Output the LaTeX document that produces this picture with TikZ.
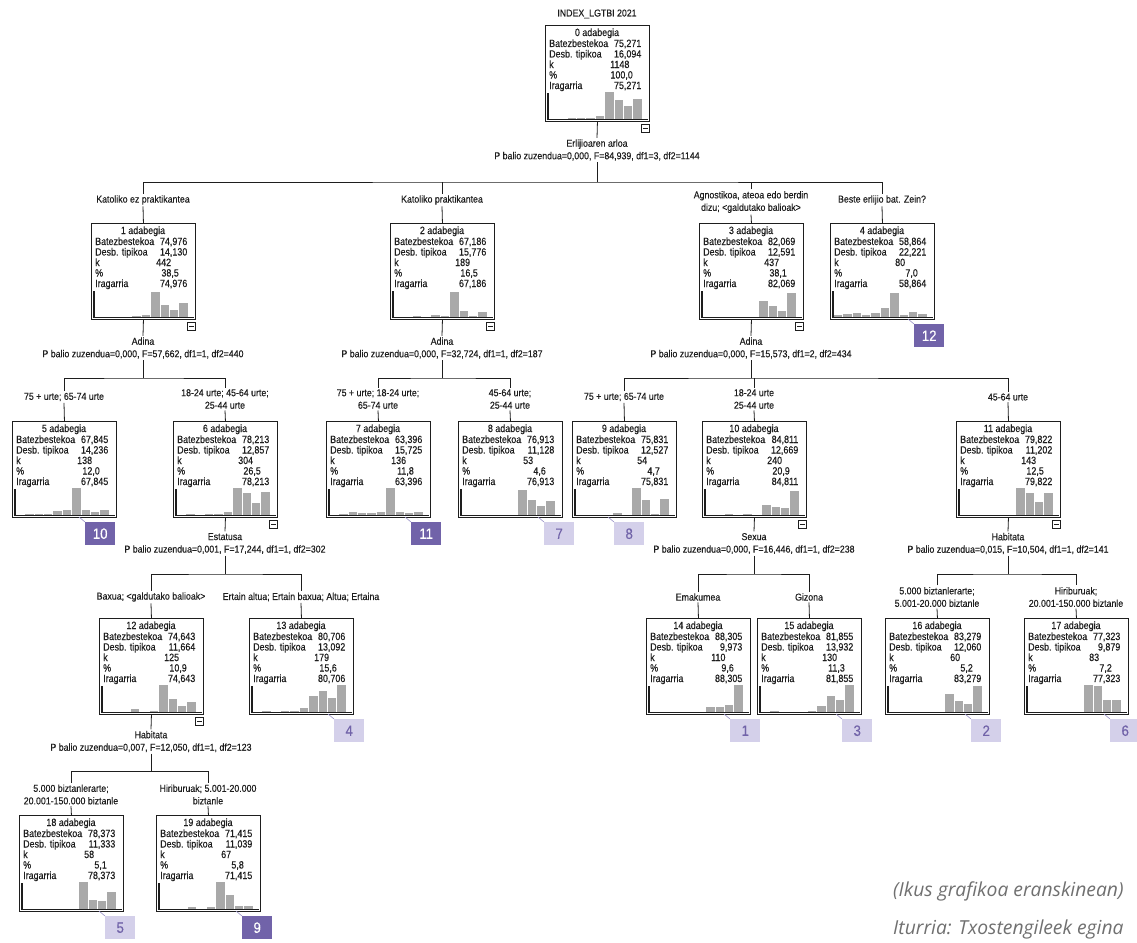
\documentclass[tikz,border=0pt]{standalone}
\usepackage{fontspec}
\setmainfont{Liberation Sans}
\newfontfamily\nf[FakeStretch=0.85,FakeBold=0.3]{Liberation Sans}
\newfontfamily\lf[FakeStretch=0.88,FakeBold=0.25]{Liberation Sans}
\newfontfamily\notef{Open Sans}
\usetikzlibrary{calc}
\definecolor{ink}{HTML}{1E1E1E}
\definecolor{bargray}{HTML}{A9A9A9}
\definecolor{dpur}{HTML}{7163A9}
\definecolor{lpur}{HTML}{D4D0EA}
\definecolor{tickc}{HTML}{9A92C8}
\definecolor{notec}{HTML}{707070}
\tikzset{
  box/.style={draw=ink, line width=0.9pt, minimum width=104pt, minimum height=96pt, inner sep=0pt, anchor=north west},
  txt/.style={inner sep=0pt, font=\nf\fontsize{10.5}{10.5}\selectfont, text=ink},
  lbl/.style={inner sep=1.5pt, align=center, font=\lf\fontsize{10}{12.5}\selectfont, text=ink},
  conn/.style={draw=ink, line width=0.8pt},
  minusbox/.style={draw=ink, line width=0.7pt, fill=white, minimum size=8pt, inner sep=0pt},
  badgedark/.style={fill=dpur, text=white, minimum width=30pt, minimum height=23pt, inner sep=0pt, font=\lf\fontsize{15}{15}\selectfont},
  badgelight/.style={fill=lpur, text=dpur, minimum width=30pt, minimum height=23pt, inner sep=0pt, font=\lf\fontsize{15}{15}\selectfont},
  tickline/.style={draw=tickc, line width=0.6pt},
  notestyle/.style={anchor=base west, inner sep=0pt, text=notec, font=\notef\itshape\fontsize{19.3}{19.3}\selectfont},
}
% #1 name, #2 x, #3 y, #4 id, #5 mean, #6 sd, #7 k, #8 pct, #9 bars
\newcommand\treebox[9]{%
  \node[box] (#1) at (#2,#3) {};
  \begin{scope}[shift={(#1.north west)}]
    \node[txt, anchor=base] (#1-t) at (52,11) {#4 adabegia};
    \node[txt, anchor=base west] (#1-a) at (4,22) {Batezbestekoa};
    \node[txt, anchor=base east] (#1-av) at (96.5,22) {#5};
    \node[txt, anchor=base west] (#1-b) at (4,32.5) {Desb. tipikoa};
    \node[txt, anchor=base east] (#1-bv) at (96.5,32.5) {#6};
    \node[txt, anchor=base west] (#1-c) at (4,43) {k};
    \node[txt, anchor=base west] (#1-cv) at (65,43) {#7};
    \node[txt, anchor=base west] (#1-d) at (4,53.5) {\%};
    \node[txt, anchor=base east] (#1-dv) at (88,53.5) {#8};
    \node[txt, anchor=base west] (#1-e) at (4,64) {Iragarria};
    \node[txt, anchor=base east] (#1-ev) at (96.5,64) {#5};
    \foreach \h [count=\i from 0] in {#9} {
      \fill[bargray] ({3.8+9.4*\i},94) rectangle ({3.8+9.4*\i+8.4},{94-\h});
    }
    \draw[ink, line width=1.1pt] (3,68) -- (3,94.6) -- (103,94.6);
  \end{scope}}
\newcommand\minbox[1]{%
  \node[minusbox, anchor=north east] (#1-m) at ($(#1.south east)+(0,2)$) {};
  \draw[ink, line width=0.8pt] ($(#1-m.center)+(-2.4,0)$) -- ($(#1-m.center)+(2.4,0)$);}
% #1 name, #2 box, #3 dx, #4 number, #5 style
\newcommand\mkbadge[5]{%
  \node[#5, anchor=north west] (#1) at ($(#2.north west)+(#3,101)$) {#4};
  \draw[tickline] (#1.north west) -- ++(-6,-5);}
\begin{document}
\begin{tikzpicture}[x=1pt, y=-1pt]
\useasboundingbox (0,0) rectangle (1137,942);
\clip (0,0) rectangle (1137,942);
\fill[white] (0,0) rectangle (1137,942);

% title
\node[lbl] (title) at (597,14) {INDEX\_LGTBI 2021};

% boxes
\treebox{n0}{545}{25}{0}{75,271}{16,094}{1148}{100,0}{0,0,1,1,1.5,3,27,19,13,20}
\treebox{n1}{91}{223}{1}{74,976}{14,130}{442}{38,5}{0,0,0,0,1,2,25,12,7,14}
\treebox{n2}{390}{223}{2}{67,186}{15,776}{189}{16,5}{0,0,1,0,2,1,25,6,1,5}
\treebox{n3}{699}{223}{3}{82,069}{12,591}{437}{38,1}{0,0,0,0,0,0,16,11,6,24}
\treebox{n4}{830}{223}{4}{58,864}{22,221}{80}{7,0}{2,3,4,2,4,9,24,2,5,3}
\treebox{n5}{12}{421}{5}{67,845}{14,236}{138}{12,0}{0,1,1.5,1,4,5,27,5,3,5}
\treebox{n6}{173}{421}{6}{78,213}{12,857}{304}{26,5}{0,1,0,1.5,1,3,27,22,12,23}
\treebox{n7}{326}{421}{7}{63,396}{15,725}{136}{11,8}{0,1,3,2,2,3,27,3,2,3}
\treebox{n8}{458}{421}{8}{76,913}{11,128}{53}{4,6}{0,0,0,0,0,0,25,15,9,14}
\treebox{n9}{572}{421}{9}{75,831}{12,527}{54}{4,7}{0,0,0,0,2,0,27,15,1,16}
\treebox{n10}{702}{421}{10}{84,811}{12,669}{240}{20,9}{0,0,1,0,1,0,10,8,7,24}
\treebox{n11}{956}{421}{11}{79,822}{11,202}{143}{12,5}{0,0,0,0,0,0,27,22,13,22}
\treebox{n12}{99}{618}{12}{74,643}{11,664}{125}{10,9}{0,0,0,3,0,1,27,13,6,10}
\treebox{n13}{249}{618}{13}{80,706}{13,092}{179}{15,6}{0,1,0,1,1,4,16,21,14,27}
\treebox{n14}{646}{618}{14}{88,305}{9,973}{110}{9,6}{0,0,0,0,0,0,5,5,7,27}
\treebox{n15}{757}{618}{15}{81,855}{13,932}{130}{11,3}{0,1,0,0,0,1,6,16,12,27}
\treebox{n16}{885}{618}{16}{83,279}{12,060}{60}{5,2}{0,0,0,0,0,0,18,11,8,26}
\treebox{n17}{1024}{618}{17}{77,323}{9,879}{83}{7,2}{0,0,0,0,0,0,27,26,12,12}
\treebox{n18}{19}{815}{18}{78,373}{11,333}{58}{5,1}{0,0,0,0,0,0,27,9,8,17}
\treebox{n19}{156}{815}{19}{71,415}{11,039}{67}{5,8}{0,0,0,2,0,2,27,14,3,3}

% minus boxes
\minbox{n0}\minbox{n1}\minbox{n2}\minbox{n3}\minbox{n6}\minbox{n10}\minbox{n11}\minbox{n12}

% badges
\mkbadge{g12}{n4}{84}{12}{badgedark}
\mkbadge{g10}{n5}{73}{10}{badgedark}
\mkbadge{g11}{n7}{85}{11}{badgedark}
\mkbadge{g7}{n8}{86}{7}{badgelight}
\mkbadge{g8}{n9}{42}{8}{badgelight}
\mkbadge{g4}{n13}{85}{4}{badgelight}
\mkbadge{g1}{n14}{84}{1}{badgelight}
\mkbadge{g3}{n15}{85}{3}{badgelight}
\mkbadge{g2}{n16}{86}{2}{badgelight}
\mkbadge{g6}{n17}{86}{6}{badgelight}
\mkbadge{g5}{n18}{86}{5}{badgelight}
\mkbadge{g9}{n19}{86}{9}{badgedark}

% ---- level 0 split
\node[lbl] (s0) at (597,150) {Erlijioaren arloa\\P balio zuzendua=0,000, F=84,939, df1=3, df2=1144};
\coordinate (b0) at (597,182);
\node[lbl] (c1) at (143,200) {Katoliko ez praktikantea};
\node[lbl] (c2) at (442,200) {Katoliko praktikantea};
\node[lbl] (c3) at (751,202) {Agnostikoa, ateoa edo berdin\\dizu; <galdutako balioak>};
\node[lbl] (c4) at (882,200) {Beste erlijio bat. Zein?};
\draw[conn] (n0.south) -- (s0.north);
\draw[conn] (s0.south) -- (b0);
\draw[conn] (c1.north) |- (b0) -| (c4.north);
\draw[conn] (c2.north) -- (c2.north |- b0);
\draw[conn] (c3.north) -- (c3.north |- b0);
\draw[conn] (c1.south) -- (n1.north);
\draw[conn] (c2.south) -- (n2.north);
\draw[conn] (c3.south) -- (n3.north);
\draw[conn] (c4.south) -- (n4.north);

% ---- node 1 split
\node[lbl] (s1) at (143,348) {Adina\\P balio zuzendua=0,000, F=57,662, df1=1, df2=440};
\coordinate (b1) at (143,378);
\node[lbl] (c5) at (64,397) {75 + urte; 65-74 urte};
\node[lbl] (c6) at (225,399) {18-24 urte; 45-64 urte;\\25-44 urte};
\draw[conn] (n1.south) -- (s1.north);
\draw[conn] (s1.south) -- (b1);
\draw[conn] (c5.north) |- (b1) -| (c6.north);
\draw[conn] (c5.south) -- (n5.north);
\draw[conn] (c6.south) -- (n6.north);

% ---- node 2 split
\node[lbl] (s2) at (442,348) {Adina\\P balio zuzendua=0,000, F=32,724, df1=1, df2=187};
\coordinate (b2) at (442,378);
\node[lbl] (c7) at (378,399) {75 + urte; 18-24 urte;\\65-74 urte};
\node[lbl] (c8) at (510,399) {45-64 urte;\\25-44 urte};
\draw[conn] (n2.south) -- (s2.north);
\draw[conn] (s2.south) -- (b2);
\draw[conn] (c7.north) |- (b2) -| (c8.north);
\draw[conn] (c7.south) -- (n7.north);
\draw[conn] (c8.south) -- (n8.north);

% ---- node 3 split
\node[lbl] (s3) at (751,348) {Adina\\P balio zuzendua=0,000, F=15,573, df1=2, df2=434};
\coordinate (b3) at (751,378);
\node[lbl] (c9) at (624,397) {75 + urte; 65-74 urte};
\node[lbl] (c10) at (754,399) {18-24 urte\\25-44 urte};
\node[lbl] (c11) at (1008,397) {45-64 urte};
\draw[conn] (n3.south) -- (s3.north);
\draw[conn] (s3.south) -- (b3);
\draw[conn] (c9.north) |- (b3) -| (c11.north);
\draw[conn] (c10.north) -- (c10.north |- b3);
\draw[conn] (c9.south) -- (n9.north);
\draw[conn] (c10.south) -- (n10.north);
\draw[conn] (c11.south) -- (n11.north);

% ---- node 6 split
\node[lbl] (s6) at (225,543.5) {Estatusa\\P balio zuzendua=0,001, F=17,244, df1=1, df2=302};
\coordinate (b6) at (225,574);
\node[lbl] (c12) at (151,597) {Baxua; <galdutako balioak>};
\node[lbl] (c13) at (301,597) {Ertain altua; Ertain baxua; Altua; Ertaina};
\draw[conn] (n6.south) -- (s6.north);
\draw[conn] (s6.south) -- (b6);
\draw[conn] (c12.north) |- (b6) -| (c13.north);
\draw[conn] (c12.south) -- (n12.north);
\draw[conn] (c13.south) -- (n13.north);

% ---- node 10 split
\node[lbl] (s10) at (754,543.5) {Sexua\\P balio zuzendua=0,000, F=16,446, df1=1, df2=238};
\coordinate (b10) at (754,574);
\node[lbl] (c14) at (698,597) {Emakumea};
\node[lbl] (c15) at (809,597) {Gizona};
\draw[conn] (n10.south) -- (s10.north);
\draw[conn] (s10.south) -- (b10);
\draw[conn] (c14.north) |- (b10) -| (c15.north);
\draw[conn] (c14.south) -- (n14.north);
\draw[conn] (c15.south) -- (n15.north);

% ---- node 11 split
\node[lbl] (s11) at (1008,543.5) {Habitata\\P balio zuzendua=0,015, F=10,504, df1=1, df2=141};
\coordinate (b11) at (1008,574);
\node[lbl] (c16) at (937,597) {5.000 biztanlerarte;\\5.001-20.000 biztanle};
\node[lbl] (c17) at (1076,597) {Hiriburuak;\\20.001-150.000 biztanle};
\draw[conn] (n11.south) -- (s11.north);
\draw[conn] (s11.south) -- (b11);
\draw[conn] (c16.north) |- (b11) -| (c17.north);
\draw[conn] (c16.south) -- (n16.north);
\draw[conn] (c17.south) -- (n17.north);

% ---- node 12 split
\node[lbl] (s12) at (151,741.5) {Habitata\\P balio zuzendua=0,007, F=12,050, df1=1, df2=123};
\coordinate (b12) at (151,771);
\node[lbl] (c18) at (71,794.5) {5.000 biztanlerarte;\\20.001-150.000 biztanle};
\node[lbl] (c19) at (208,794.5) {Hiriburuak; 5.001-20.000\\biztanle};
\draw[conn] (n12.south) -- (s12.north);
\draw[conn] (s12.south) -- (b12);
\draw[conn] (c18.north) |- (b12) -| (c19.north);
\draw[conn] (c18.south) -- (n18.north);
\draw[conn] (c19.south) -- (n19.north);

% notes
\node[notestyle] (note1) at (893,896) {(Ikus grafikoa eranskinean)};
\node[notestyle] (note2) at (893,934) {Iturria: Txostengileek egina};
\end{tikzpicture}
\end{document}
